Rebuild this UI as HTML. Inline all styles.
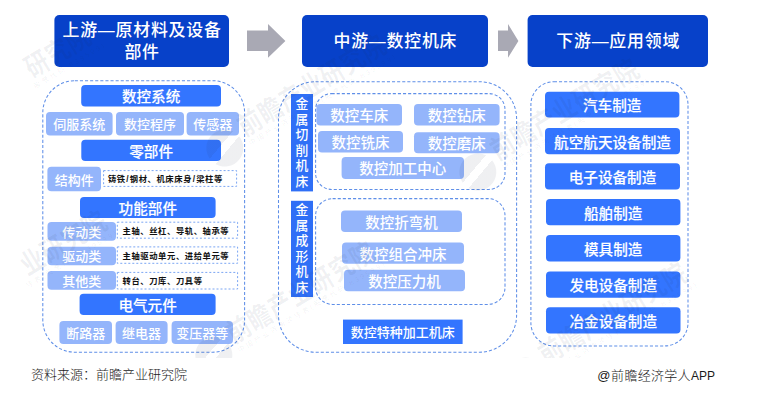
<!DOCTYPE html>
<html lang="zh-CN"><head><meta charset="utf-8"><title>数控机床产业链</title>
<style>
html,body{margin:0;padding:0;background:#fff;}
body{width:775px;height:404px;position:relative;overflow:hidden;font-family:"Liberation Sans", "Noto Sans CJK SC", sans-serif;}
.b{position:absolute;display:flex;align-items:center;justify-content:center;text-align:center;color:#fff;white-space:nowrap;box-sizing:border-box;}
.hd{font-size:16.9px;font-weight:500;line-height:22.5px;letter-spacing:0.8px;padding-left:0.8px;padding-top:2.2px;}
.br{font-size:14.6px;font-weight:500;-webkit-text-stroke:0.15px #fff;}
.sq{font-size:13px;-webkit-text-stroke:0;}
.lt{font-weight:500;}
.s13{font-size:13px;}
.s145{font-size:14.5px;font-weight:500;}
.vl{font-size:12.8px;font-weight:500;line-height:15.55px;}
.tx{position:absolute;color:#111;font-size:8.3px;font-weight:700;letter-spacing:0.6px;white-space:nowrap;}
.tx i{font-style:normal;margin:0 0.6px;}
.ft{position:absolute;color:#1a1a1a;font-weight:300;font-size:13px;white-space:nowrap;line-height:16px;}
svg{position:absolute;left:0;top:0;}
.wml{position:absolute;left:20px;top:0;width:755px;height:358px;overflow:hidden;pointer-events:none;}
.wmo{position:absolute;left:-20px;top:0;width:775px;height:404px;}
.wm{position:absolute;width:0;height:0;transform-origin:0 0;color:rgba(30,40,70,0.065);white-space:nowrap;}
.wm-m{position:absolute;top:-16px;line-height:32px;font-size:23.4px;font-weight:700;letter-spacing:0.6px;transform:scaleY(1.18);}
.wm-s{position:absolute;top:12px;line-height:12px;font-size:7px;font-weight:400;letter-spacing:2.3px;}
.wm-l{position:absolute;left:-53px;top:-10px;width:37px;height:37px;border-radius:50%;background:linear-gradient(161deg,rgba(30,40,70,0.07) 0,rgba(30,40,70,0.07) 40%,rgba(30,40,70,0) 40%,rgba(30,40,70,0) 57%,rgba(30,40,70,0.07) 57%);}
</style></head><body>
<svg width="775" height="404" viewBox="0 0 775 404">
<rect x="54.4" y="15" width="174.6" height="52" rx="5" ry="5" fill="#0741c9"/>
<rect x="302" y="15" width="186" height="52" rx="5" ry="5" fill="#0741c9"/>
<rect x="527.6" y="15" width="180.4" height="52" rx="5" ry="5" fill="#0741c9"/>
<rect x="81.2" y="85" width="139.8" height="21.4" rx="4" ry="4" fill="#3375ff"/>
<rect x="81.3" y="139.8" width="139.7" height="21.3" rx="4" ry="4" fill="#3375ff"/>
<rect x="80" y="197" width="135.6" height="21" rx="4" ry="4" fill="#3375ff"/>
<rect x="79.6" y="293.8" width="136.0" height="21.1" rx="4" ry="4" fill="#3375ff"/>
<rect x="46" y="112" width="66.6" height="23.6" rx="4" ry="4" fill="#94b5fb"/>
<rect x="116" y="112" width="68" height="23.6" rx="4" ry="4" fill="#94b5fb"/>
<rect x="186.6" y="112" width="52.4" height="23.6" rx="4" ry="4" fill="#94b5fb"/>
<rect x="47.4" y="166.8" width="53.6" height="24.5" rx="4" ry="4" fill="#94b5fb"/>
<rect x="47.5" y="222" width="68.5" height="18.8" rx="4" ry="4" fill="#94b5fb"/>
<rect x="47.5" y="246.7" width="68.5" height="18.5" rx="4" ry="4" fill="#94b5fb"/>
<rect x="47.5" y="271" width="68.5" height="18.8" rx="4" ry="4" fill="#94b5fb"/>
<rect x="59.4" y="321" width="52.6" height="23" rx="4" ry="4" fill="#94b5fb"/>
<rect x="115.6" y="321" width="52.0" height="23" rx="4" ry="4" fill="#94b5fb"/>
<rect x="171.6" y="321" width="61.4" height="23" rx="4" ry="4" fill="#94b5fb"/>
<rect x="291" y="94" width="22" height="97.4" rx="0" ry="0" fill="#2f6ff6"/>
<rect x="291" y="200.8" width="22" height="96.2" rx="0" ry="0" fill="#2f6ff6"/>
<rect x="316.4" y="103.9" width="85.6" height="21.6" rx="4" ry="4" fill="#94b5fb"/>
<rect x="414" y="103.9" width="85.6" height="21.6" rx="4" ry="4" fill="#94b5fb"/>
<rect x="318" y="130.9" width="85" height="21.7" rx="4" ry="4" fill="#94b5fb"/>
<rect x="414" y="132.2" width="85.6" height="21.1" rx="4" ry="4" fill="#94b5fb"/>
<rect x="341.6" y="157.1" width="122.4" height="21.8" rx="4" ry="4" fill="#94b5fb"/>
<rect x="341" y="210.4" width="121" height="21.5" rx="4" ry="4" fill="#94b5fb"/>
<rect x="342" y="242.4" width="122" height="21.3" rx="4" ry="4" fill="#94b5fb"/>
<rect x="344" y="269.8" width="121" height="21.5" rx="4" ry="4" fill="#94b5fb"/>
<rect x="343" y="319.6" width="119.6" height="24.4" rx="0" ry="0" fill="#3375ff"/>
<rect x="545" y="91.7" width="134.4" height="25.9" rx="4" ry="4" fill="#3375ff"/>
<rect x="545" y="127.9" width="135" height="26.3" rx="4" ry="4" fill="#3375ff"/>
<rect x="545" y="163.3" width="135" height="26.3" rx="4" ry="4" fill="#3375ff"/>
<rect x="546" y="199" width="134.4" height="26.3" rx="4" ry="4" fill="#3375ff"/>
<rect x="546" y="235.1" width="134.4" height="26.3" rx="4" ry="4" fill="#3375ff"/>
<rect x="546" y="271.6" width="134.4" height="26.2" rx="4" ry="4" fill="#3375ff"/>
<rect x="546" y="307.2" width="134.5" height="26.2" rx="4" ry="4" fill="#3375ff"/>
<rect x="42.8" y="80.7" width="201.8" height="271.5" rx="32" ry="32" fill="none" stroke="#5f8fe8" stroke-width="1.05" stroke-dasharray="3.1 2"/>
<rect x="278.5" y="81.7" width="238.1" height="270.5" rx="37" ry="37" fill="none" stroke="#5f8fe8" stroke-width="1.05" stroke-dasharray="3.1 2"/>
<rect x="530.9" y="81.7" width="157.1" height="264.2" rx="23" ry="23" fill="none" stroke="#5f8fe8" stroke-width="1.05" stroke-dasharray="3.1 2"/>
<rect x="315.6" y="93.6" width="189.4" height="95.8" rx="16" ry="16" fill="none" stroke="#5f8fe8" stroke-width="1.05" stroke-dasharray="3.1 2"/>
<rect x="315.6" y="198.6" width="189.4" height="105.8" rx="17" ry="17" fill="none" stroke="#5f8fe8" stroke-width="1.05" stroke-dasharray="3.1 2"/>
<rect x="103.6" y="170.6" width="133.0" height="15.8" rx="0" ry="0" fill="none" stroke="#7aa5f3" stroke-width="1" stroke-dasharray="2 2"/>
<rect x="117.3" y="222.2" width="120.3" height="16.0" rx="0" ry="0" fill="none" stroke="#7aa5f3" stroke-width="1" stroke-dasharray="2 2"/>
<rect x="117.3" y="246.9" width="120.3" height="16.4" rx="0" ry="0" fill="none" stroke="#7aa5f3" stroke-width="1" stroke-dasharray="2 2"/>
<rect x="117.3" y="272.4" width="120.3" height="16.6" rx="0" ry="0" fill="none" stroke="#7aa5f3" stroke-width="1" stroke-dasharray="2 2"/>
<path d="M247 30.6H268V24L285.4 40.9L268 57.8V51H247Z" fill="#a9a9b4"/>
<path d="M498 30.6H508V24L518.4 40.9L508 57.8V51H498Z" fill="#a9a9b4"/>
</svg>
<div class="b hd" style="left:54.4px;top:15px;width:174.6px;height:52px;">上游—原材料及设备<br>部件</div>
<div class="b hd" style="left:302px;top:15px;width:186px;height:52px;">中游—数控机床</div>
<div class="b hd" style="left:527.6px;top:15px;width:180.4px;height:52px;">下游—应用领域</div>
<div class="b br" style="left:81.2px;top:85px;width:139.8px;height:21.4px;">数控系统</div>
<div class="b br" style="left:81.3px;top:139.8px;width:139.7px;height:21.3px;">零部件</div>
<div class="b br" style="left:80px;top:197px;width:135.6px;height:21px;">功能部件</div>
<div class="b br" style="left:79.6px;top:293.8px;width:136.0px;height:21.1px;">电气元件</div>
<div class="b lt s13" style="left:46px;top:112px;width:66.6px;height:23.6px;">伺服系统</div>
<div class="b lt s13" style="left:116px;top:112px;width:68px;height:23.6px;">数控程序</div>
<div class="b lt s13" style="left:186.6px;top:112px;width:52.4px;height:23.6px;">传感器</div>
<div class="b lt s13" style="left:47.4px;top:166.8px;width:53.6px;height:24.5px;">结构件</div>
<div class="b lt s13" style="left:47.5px;top:222px;width:68.5px;height:18.8px;">传动类</div>
<div class="b lt s13" style="left:47.5px;top:246.7px;width:68.5px;height:18.5px;">驱动类</div>
<div class="b lt s13" style="left:47.5px;top:271px;width:68.5px;height:18.8px;">其他类</div>
<div class="b lt s13" style="left:59.4px;top:321px;width:52.6px;height:23px;">断路器</div>
<div class="b lt s13" style="left:115.6px;top:321px;width:52.0px;height:23px;">继电器</div>
<div class="b lt s13" style="left:171.6px;top:321px;width:61.4px;height:23px;">变压器等</div>
<div class="tx" style="left:107.89999999999999px;top:171.6px;height:15.8px;line-height:15.8px;">铸铁<i>/</i>钢材、机床床身<i>/</i>梁柱等</div>
<div class="tx" style="left:122.5px;top:222.8px;height:16.0px;line-height:16.0px;">主轴、丝杠、导轨、轴承等</div>
<div class="tx" style="left:122.5px;top:247.5px;height:16.4px;line-height:16.4px;">主轴驱动单元、进给单元等</div>
<div class="tx" style="left:122.5px;top:273px;height:16.6px;line-height:16.6px;">转台、刀库、刀具等</div>
<div class="b vl" style="left:291px;top:94px;width:22px;height:97.4px;">金<br>属<br>切<br>削<br>机<br>床</div>
<div class="b vl" style="left:291px;top:200.8px;width:22px;height:96.2px;">金<br>属<br>成<br>形<br>机<br>床</div>
<div class="b lt s145" style="left:316.4px;top:103.9px;width:85.6px;height:21.6px;">数控车床</div>
<div class="b lt s145" style="left:414px;top:103.9px;width:85.6px;height:21.6px;">数控钻床</div>
<div class="b lt s145" style="left:318px;top:130.9px;width:85px;height:21.7px;">数控铣床</div>
<div class="b lt s145" style="left:414px;top:132.2px;width:85.6px;height:21.1px;">数控磨床</div>
<div class="b lt s145" style="left:341.6px;top:157.1px;width:122.4px;height:21.8px;">数控加工中心</div>
<div class="b lt s145" style="left:341px;top:210.4px;width:121px;height:21.5px;">数控折弯机</div>
<div class="b lt s145" style="left:342px;top:242.4px;width:122px;height:21.3px;">数控组合冲床</div>
<div class="b lt s145" style="left:344px;top:269.8px;width:121px;height:21.5px;">数控压力机</div>
<div class="b br sq" style="left:343px;top:319.6px;width:119.6px;height:24.4px;">数控特种加工机床</div>
<div class="b br r4" style="left:545px;top:91.7px;width:134.4px;height:25.9px;">汽车制造</div>
<div class="b br r4" style="left:545px;top:127.9px;width:135px;height:26.3px;">航空航天设备制造</div>
<div class="b br r4" style="left:545px;top:163.3px;width:135px;height:26.3px;">电子设备制造</div>
<div class="b br r4" style="left:546px;top:199px;width:134.4px;height:26.3px;">船舶制造</div>
<div class="b br r4" style="left:546px;top:235.1px;width:134.4px;height:26.3px;">模具制造</div>
<div class="b br r4" style="left:546px;top:271.6px;width:134.4px;height:26.2px;">发电设备制造</div>
<div class="b br r4" style="left:546px;top:307.2px;width:134.5px;height:26.2px;">冶金设备制造</div>
<div class="wml"><div class="wmo">
<div class="wm" style="left:-45px;top:114.2px;transform:rotate(-31deg)"><span class="wm-m" style="left:84.3px">研究院</span><span class="wm-s" style="left:82.0px">股票代码 839599)</span></div>
<div class="wm" style="left:250px;top:123px;transform:rotate(-31deg)"><span class="wm-m" style="left:-11.7px">前瞻产业研究院</span><span class="wm-s" style="left:-11px">中国产业咨询领导者(股票代码 839599)</span><span class="wm-l"></span></div>
<div class="wm" style="left:503px;top:147px;transform:rotate(-31deg)"><span class="wm-m" style="left:-11.7px">前瞻产业研究院</span><span class="wm-s" style="left:-11px">中国产业咨询领导者(股票代码 839599)</span><span class="wm-l"></span></div>
<div class="wm" style="left:-29px;top:298.5px;transform:rotate(-31deg)"><span class="wm-m" style="left:60.3px">业研究院</span><span class="wm-s" style="left:54.10000000000001px">导者(股票代码 839599)</span></div>
<div class="wm" style="left:238.5px;top:330px;transform:rotate(-31deg)"><span class="wm-m" style="left:-11.7px">前瞻产业研究院</span><span class="wm-s" style="left:-11px">中国产业咨询领导者(股票代码 839599)</span><span class="wm-l"></span></div>
<div class="wm" style="left:550.5px;top:351px;transform:rotate(-31deg)"><span class="wm-m" style="left:-11.7px">前瞻产业研究院</span><span class="wm-s" style="left:-11px">中国产业咨询领导者(股票代码 839599)</span><span class="wm-l"></span></div>
</div></div>
<div class="ft" style="left:31px;top:367px;">资料来源：前瞻产业研究院</div>
<div class="ft" style="left:597.2px;top:367.6px;letter-spacing:0.3px;"><span style="letter-spacing:0.7px">@</span>前瞻经济学人<span style="font-size:12px;letter-spacing:0">APP</span></div>
</body></html>
